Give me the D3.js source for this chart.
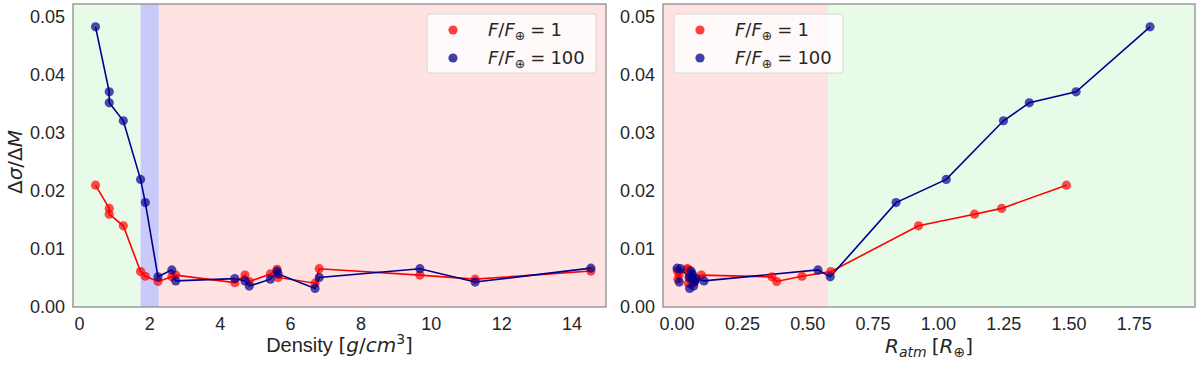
<!DOCTYPE html>
<html>
<head>
<meta charset="utf-8">
<script src="https://cdn.jsdelivr.net/npm/d3@7"></script>
<style>
  html, body { margin: 0; padding: 0; background: #fff; }
  svg { display: block; }
</style>
</head>
<body>
<svg id="chart" width="1200" height="365"></svg>
<script>
// ---------------- data ----------------
const density  = [0.47, 0.86, 0.86, 1.26, 1.75, 1.885, 2.245, 2.64, 2.75, 4.43, 4.72, 4.84, 5.44, 5.63, 5.66, 6.71, 6.83, 9.69, 11.26, 14.55];
const sigma1   = [0.0210, 0.0170, 0.0160, 0.0140, 0.0061, 0.0053, 0.0044, 0.0052, 0.0055, 0.0042, 0.0055, 0.0044, 0.0057, 0.0065, 0.0051, 0.0041, 0.0066, 0.0055, 0.0048, 0.0062];
const sigma100 = [0.0483, 0.0371, 0.0352, 0.0321, 0.0220, 0.0180, 0.0052, 0.0064, 0.0045, 0.0049, 0.0045, 0.0036, 0.0048, 0.0062, 0.0057, 0.0032, 0.0051, 0.0066, 0.0043, 0.0067];
const ratm1    = [1.492, 1.244, 1.140, 0.926, 0.590, 0.480, 0.383, 0.365, 0.095, 0.065, 0.060, 0.070, 0.050, 0.045, 0.050, 0.045, 0.040, 0.010, 0.005, 0.003];
const ratm100  = [1.812, 1.529, 1.350, 1.251, 1.032, 0.840, 0.588, 0.541, 0.105, 0.075, 0.070, 0.065, 0.060, 0.055, 0.060, 0.050, 0.048, 0.015, 0.010, 0.002];

const densityTicks = [0, 2, 4, 6, 8, 10, 12, 14];
const ratmTicks = [0, 0.25, 0.5, 0.75, 1.0, 1.25, 1.5, 1.75];
const yTicks = [0, 0.01, 0.02, 0.03, 0.04, 0.05];

// shaded regions
const leftSpans  = [{x0: -0.17, x1: 1.75, c: "rgb(232,250,232)"}, {x0: 1.75, x1: 2.27, c: "rgb(202,202,250)"}, {x0: 2.27, x1: 14.98, c: "rgb(255,226,226)"}];
const rightSpans = [{x0: -0.052, x1: 0.58, c: "rgb(255,226,226)"}, {x0: 0.58, x1: 1.984, c: "rgb(232,250,232)"}];

// ---------------- drawing ----------------
const svg = d3.select("#chart");
const TOP = 4, BOTTOM = 307;
const y = d3.scaleLinear().domain([0, 0.05224]).range([BOTTOM, TOP]);
const RED = "red", BLUE = "#00008b";
const MARK_RED = "red", MARK_BLUE = "#000090";
const TXT = "#262626";
const SANS = "'Liberation Sans', Arial, sans-serif";
const MATH = "'DejaVu Sans', sans-serif";
const LABEL_SIZE = 20;

function panel(x, xs, spans, xTicks, xFmt, legendX) {
  const g = svg.append("g");
  const [x0, x1] = x.range();
  g.selectAll("rect.span").data(spans).enter().append("rect")
    .attr("x", d => x(d.x0)).attr("width", d => x(d.x1) - x(d.x0))
    .attr("y", TOP).attr("height", BOTTOM - TOP).attr("fill", d => d.c);

  const series = [
    {xs: xs[0], ys: sigma1, line: RED, mark: MARK_RED},
    {xs: xs[1], ys: sigma100, line: BLUE, mark: MARK_BLUE}
  ];
  series.forEach(s => {
    const pts = s.xs.map((v, i) => [v, s.ys[i]]);
    g.append("path").datum(pts)
      .attr("d", d3.line().x(d => x(d[0])).y(d => y(d[1])))
      .attr("fill", "none").attr("stroke", s.line).attr("stroke-width", 1.6);
  });
  series.forEach(s => {
    const pts = s.xs.map((v, i) => [v, s.ys[i]]);
    g.selectAll(null).data(pts).enter().append("circle")
      .attr("cx", d => x(d[0])).attr("cy", d => y(d[1])).attr("r", 4.6)
      .attr("fill", s.mark).attr("fill-opacity", 0.7);
  });

  g.append("rect").attr("x", x0).attr("y", TOP).attr("width", x1 - x0).attr("height", BOTTOM - TOP)
    .attr("fill", "none").attr("stroke", "#8c8c8c").attr("stroke-width", 1.3);

  const ax = g.append("g").attr("transform", `translate(0,${BOTTOM})`)
    .call(d3.axisBottom(x).tickValues(xTicks).tickFormat(xFmt).tickSize(0).tickPadding(10));
  const ay = g.append("g").attr("transform", `translate(${x0},0)`)
    .call(d3.axisLeft(y).tickValues(yTicks).tickFormat(d3.format(".2f")).tickSize(0).tickPadding(8));
  [ax, ay].forEach(a => {
    a.select(".domain").remove();
    a.selectAll("text").attr("font-family", SANS).attr("font-size", 18).attr("fill", TXT);
  });

  const lg = g.append("g");
  lg.append("rect").attr("x", legendX).attr("y", 14).attr("width", 169).attr("height", 59).attr("rx", 3)
    .attr("fill", "white").attr("fill-opacity", 0.8).attr("stroke", "#d8d8d8").attr("stroke-width", 1);
  const entries = [{c: MARK_RED, v: "1", yy: 30}, {c: MARK_BLUE, v: "100", yy: 58}];
  entries.forEach(e => {
    lg.append("circle").attr("cx", legendX + 26).attr("cy", e.yy).attr("r", 4.6)
      .attr("fill", e.c).attr("fill-opacity", 0.75);
    const t = lg.append("text").attr("x", legendX + 61).attr("y", e.yy + 6)
      .attr("font-family", MATH).attr("font-size", 18).attr("fill", TXT);
    t.append("tspan").attr("font-style", "italic").text("F");
    t.append("tspan").text("/");
    t.append("tspan").attr("font-style", "italic").text("F");
    t.append("tspan").attr("font-size", 12.5).attr("dy", 4).text("⊕");
    t.append("tspan").attr("dy", -4).attr("dx", 5).text("=");
    t.append("tspan").attr("dx", 5).text(e.v);
  });
  return g;
}

const xL = d3.scaleLinear().domain([-0.17, 14.98]).range([73, 606]);
panel(xL, [density, density], leftSpans, densityTicks, d3.format("d"), 427);

const xR = d3.scaleLinear().domain([-0.052, 1.984]).range([663, 1195]);
panel(xR, [ratm1, ratm100], rightSpans, ratmTicks, d3.format(".2f"), 674);

// x labels
const lx = svg.append("text").attr("x", 339.5).attr("y", 352).attr("text-anchor", "middle")
  .attr("font-size", LABEL_SIZE).attr("fill", TXT).attr("font-family", SANS);
lx.append("tspan").text("Density ");
lx.append("tspan").attr("font-family", MATH).text("[");
lx.append("tspan").attr("font-family", MATH).attr("font-style", "italic").text("g");
lx.append("tspan").attr("font-family", MATH).text("/");
lx.append("tspan").attr("font-family", MATH).attr("font-style", "italic").text("cm");
lx.append("tspan").attr("font-family", MATH).attr("font-size", 14).attr("dy", -8).text("3");
lx.append("tspan").attr("font-family", MATH).attr("dy", 8).text("]");

const rx = svg.append("text").attr("x", 929).attr("y", 353).attr("text-anchor", "middle")
  .attr("font-size", LABEL_SIZE).attr("fill", TXT).attr("font-family", MATH);
rx.append("tspan").attr("font-style", "italic").text("R");
rx.append("tspan").attr("font-style", "italic").attr("font-size", 14).attr("dy", 4).text("atm");
rx.append("tspan").attr("dy", -4).attr("dx", 5).text("[");
rx.append("tspan").attr("font-style", "italic").text("R");
rx.append("tspan").attr("font-size", 14).attr("dy", 4).text("⊕");
rx.append("tspan").attr("dy", -4).text("]");

// y label
const ly = svg.append("text").attr("transform", "translate(22,162) rotate(-90)").attr("text-anchor", "middle")
  .attr("font-size", LABEL_SIZE).attr("fill", TXT).attr("font-family", MATH);
ly.append("tspan").text("Δ");
ly.append("tspan").attr("font-style", "italic").text("σ");
ly.append("tspan").text("/Δ");
ly.append("tspan").attr("font-style", "italic").text("M");
</script>
</body>
</html>
